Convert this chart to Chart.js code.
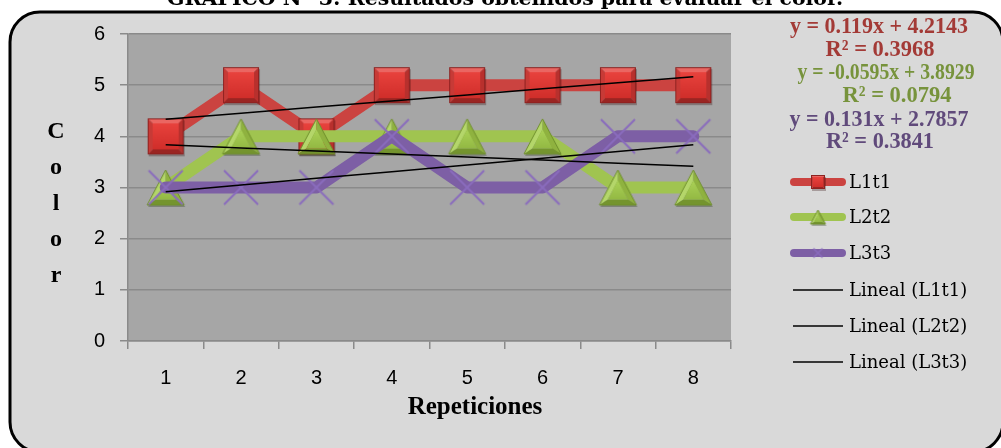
<!DOCTYPE html>
<html>
<head>
<meta charset="utf-8">
<title>Color</title>
<script src="https://cdn.jsdelivr.net/npm/chart.js@4.4.0/dist/chart.umd.min.js"></script>
<style>
  html, body { margin: 0; padding: 0; background: #ffffff; }
  #Contenedor { width: 1001px; height: 448px; }
</style>
</head>
<body>
<div id="Contenedor"><canvas id="Grafico" width="1001" height="448"></canvas></div>
<script>
/* Datos: repeticiones y puntaje de color de cada tratamiento */
const repeticiones = ["1", "2", "3", "4", "5", "6", "7", "8"];
const L1t1 = [4, 5, 4, 5, 5, 5, 5, 5];
const L2t2 = [3, 4, 4, 4, 4, 4, 3, 3];
const L3t3 = [3, 3, 3, 4, 3, 3, 4, 4];
const ticksColor = [0, 1, 2, 3, 4, 5, 6];

const titulo = "GRÁFICO N° 3: Resultados obtenidos para evaluar el color.";
const tituloX = "Repeticiones";
const tituloY = ["C", "o", "l", "o", "r"];

/* colores */
const rojo = "#cb4340";
const verde = "#a0c450";
const morado = "#7d5fa5";
const rojoTexto = "#a33a36";
const verdeTexto = "#77933c";
const moradoTexto = "#604a7b";
const rejilla = "#8a8a8a";

/**
 * Regresion lineal de una serie (x = 1..n)
 * @param {Array} valores
 */
function lineal(valores) {
  const n = valores.length;
  const xs = valores.map((_, i) => i + 1);
  const mx = xs.reduce((a, b) => a + b, 0) / n;
  const my = valores.reduce((a, b) => a + b, 0) / n;
  let sxy = 0, sxx = 0, syy = 0;
  xs.forEach((x, i) => {
    sxy += (x - mx) * (valores[i] - my);
    sxx += (x - mx) * (x - mx);
    syy += (valores[i] - my) * (valores[i] - my);
  });
  const m = sxy / sxx;
  const b = my - m * mx;
  return { m: m, b: b, r2: (sxy * sxy) / (sxx * syy), puntos: xs.map(x => m * x + b) };
}

function num(v) {
  return String(parseFloat(v.toFixed(4)));
}

const tendencia1 = lineal(L1t1);
const tendencia2 = lineal(L2t2);
const tendencia3 = lineal(L3t3);

/* poligono relleno */
function cara(ctx, pts, color) {
  ctx.beginPath();
  ctx.moveTo(pts[0][0], pts[0][1]);
  for (let i = 1; i < pts.length; i++) ctx.lineTo(pts[i][0], pts[i][1]);
  ctx.closePath();
  ctx.fillStyle = color;
  ctx.fill();
}

/* marcador cuadrado con bisel */
function marcaCuadro(lado) {
  const s = 3;
  const c = document.createElement("canvas");
  c.width = lado + s * 2;
  c.height = lado + s * 2;
  const x = c.getContext("2d");
  x.fillStyle = "rgba(40,0,0,0.28)";
  x.fillRect(s + 1, s + 2, lado, lado);
  const o = s, b = Math.max(2, Math.round(lado * 0.14)), f = o + lado;
  cara(x, [[o, o], [f, o], [f - b, o + b], [o + b, o + b]], "#ea6662");
  cara(x, [[f, o], [f, f], [f - b, f - b], [f - b, o + b]], "#b8302d");
  cara(x, [[o, f], [f, f], [f - b, f - b], [o + b, f - b]], "#9a2522");
  cara(x, [[o, o], [o, f], [o + b, f - b], [o + b, o + b]], "#c73a36");
  const g = x.createLinearGradient(0, o + b, 0, f - b);
  g.addColorStop(0, "#e8423d");
  g.addColorStop(1, "#d02e2a");
  x.fillStyle = g;
  x.fillRect(o + b, o + b, lado - 2 * b, lado - 2 * b);
  x.strokeStyle = "#8e2220";
  x.lineWidth = 1;
  x.strokeRect(o + 0.5, o + 0.5, lado - 1, lado - 1);
  return c;
}

/* marcador triangulo con bisel */
function marcaTriangulo(ancho) {
  const alto = Math.round(ancho * 0.95), s = 3;
  const c = document.createElement("canvas");
  c.width = ancho + s * 2;
  c.height = alto + s * 2;
  const x = c.getContext("2d");
  const A = [s + ancho / 2, s], B = [s, s + alto], C = [s + ancho, s + alto];
  cara(x, [[A[0] + 1, A[1] + 2], [B[0] + 1, B[1] + 2], [C[0] + 1, C[1] + 2]], "rgba(20,40,0,0.28)");
  const cx = (A[0] + B[0] + C[0]) / 3, cy = (A[1] + B[1] + C[1]) / 3, k = 0.55;
  const a = [cx + (A[0] - cx) * k, cy + (A[1] - cy) * k];
  const b = [cx + (B[0] - cx) * k, cy + (B[1] - cy) * k];
  const d = [cx + (C[0] - cx) * k, cy + (C[1] - cy) * k];
  cara(x, [A, B, b, a], "#b4d66a");
  cara(x, [A, C, d, a], "#8fb23f");
  cara(x, [B, C, d, b], "#74942e");
  const g = x.createLinearGradient(0, a[1], 0, b[1]);
  g.addColorStop(0, "#aad157");
  g.addColorStop(1, "#93b943");
  cara(x, [a, b, d], g);
  x.beginPath();
  x.moveTo(A[0], A[1]); x.lineTo(B[0], B[1]); x.lineTo(C[0], C[1]); x.closePath();
  x.strokeStyle = "#6f8f2c";
  x.lineWidth = 1;
  x.stroke();
  return c;
}

/* marcador en forma de X */
function marcaCruz(lado, grosor) {
  const c = document.createElement("canvas");
  c.width = lado + 4;
  c.height = lado + 4;
  const x = c.getContext("2d");
  x.strokeStyle = "#8a6cbd";
  x.lineWidth = grosor;
  x.beginPath();
  x.moveTo(2, 2); x.lineTo(lado + 2, lado + 2);
  x.moveTo(lado + 2, 2); x.lineTo(2, lado + 2);
  x.stroke();
  return c;
}

const puntoRojo = marcaCuadro(36);
const puntoVerde = marcaTriangulo(37);
const puntoMorado = marcaCruz(34, 2);

/* fondo, recuadro y area de trazado */
const fondoPlugin = {
  id: "fondo",
  beforeDraw(chart) {
    const ctx = chart.ctx;
    const a = chart.chartArea;
    ctx.save();
    ctx.fillStyle = "#ffffff";
    ctx.fillRect(0, 0, chart.width, chart.height);
    ctx.beginPath();
    ctx.roundRect(10, 12, 993, 440, 30);
    ctx.fillStyle = "#d9d9d9";
    ctx.fill();
    ctx.lineWidth = 3;
    ctx.strokeStyle = "#000000";
    ctx.stroke();
    ctx.fillStyle = "#a6a6a6";
    ctx.fillRect(a.left, a.top, a.right - a.left, a.bottom - a.top);
    /* titulo del grafico */
    ctx.fillStyle = "#000000";
    ctx.font = "bold 21px 'DejaVu Serif', serif";
    ctx.textAlign = "center";
    ctx.textBaseline = "alphabetic";
    ctx.fillText(titulo, 505, 5, 676);
    ctx.restore();
  }
};

/* ecuaciones, leyenda y titulos de ejes */
const textosPlugin = {
  id: "textos",
  afterDraw(chart) {
    const ctx = chart.ctx;
    ctx.save();
    ctx.textBaseline = "middle";
    ctx.textAlign = "center";

    /* ecuaciones de tendencia */
    ctx.font = "bold 23px 'Liberation Serif', serif";
    const ecuaciones = [
      [tendencia1, rojoTexto, 879, 27, 178, 880, 50, 109],
      [tendencia2, verdeTexto, 886, 73, 177, 897, 96, 109],
      [tendencia3, moradoTexto, 879, 120, 179, 880, 142, 108]
    ];
    ecuaciones.forEach(e => {
      const t = e[0];
      ctx.fillStyle = e[1];
      ctx.fillText("y = " + num(t.m) + "x + " + num(t.b), e[2], e[3], e[4]);
      ctx.fillText("R² = " + num(t.r2), e[5], e[6], e[7]);
    });

    /* leyenda */
    ctx.textAlign = "left";
    ctx.font = "18px 'DejaVu Serif', serif";
    const series = [
      ["L1t1", rojo, marcaCuadro(14), 182],
      ["L2t2", verde, marcaTriangulo(15), 217],
      ["L3t3", morado, marcaCruz(9, 1.5), 253]
    ];
    series.forEach(s => {
      ctx.strokeStyle = s[1];
      ctx.lineWidth = 8;
      ctx.lineCap = "round";
      ctx.beginPath();
      ctx.moveTo(794, s[3]);
      ctx.lineTo(842, s[3]);
      ctx.stroke();
      ctx.drawImage(s[2], 818 - s[2].width / 2, s[3] - s[2].height / 2);
      ctx.fillStyle = "#000000";
      ctx.fillText(s[0], 849, s[3] + 1);
    });
    ["Lineal (L1t1)", "Lineal (L2t2)", "Lineal (L3t3)"].forEach((txt, i) => {
      const y = 290 + i * 36;
      ctx.strokeStyle = "#000000";
      ctx.lineWidth = 1.5;
      ctx.lineCap = "butt";
      ctx.beginPath();
      ctx.moveTo(793, y);
      ctx.lineTo(843, y);
      ctx.stroke();
      ctx.fillStyle = "#000000";
      ctx.fillText(txt, 849, y + 1);
    });

    /* titulos de ejes */
    ctx.textAlign = "center";
    ctx.fillStyle = "#000000";
    ctx.font = "bold 25px 'Liberation Serif', serif";
    ctx.fillText(tituloX, 475, 408, 140);
    ctx.font = "bold 24px 'Liberation Serif', serif";
    tituloY.forEach((letra, i) => {
      ctx.fillText(letra, 56, 132 + i * 36);
    });
    ctx.restore();
  }
};

const fuenteTicks = { family: "'Liberation Sans', sans-serif", size: 20 };

function serie(nombre, datos, color, marca, orden) {
  return {
    label: nombre,
    data: datos,
    borderColor: color,
    borderWidth: 12,
    borderJoinStyle: "round",
    borderCapStyle: "round",
    pointStyle: marca,
    pointRadius: 18,
    tension: 0,
    order: orden
  };
}

function recta(nombre, datos) {
  return {
    label: nombre,
    data: datos,
    borderColor: "#000000",
    borderWidth: 1.5,
    pointRadius: 0,
    tension: 0,
    order: 0
  };
}

const myChart = new Chart(document.getElementById("Grafico"), {
  type: "line",
  data: {
    labels: repeticiones,
    datasets: [
      serie("L1t1", L1t1, rojo, puntoRojo, 3),
      serie("L2t2", L2t2, verde, puntoVerde, 2),
      serie("L3t3", L3t3, morado, puntoMorado, 1),
      recta("Lineal (L1t1)", tendencia1.puntos),
      recta("Lineal (L2t2)", tendencia2.puntos),
      recta("Lineal (L3t3)", tendencia3.puntos)
    ]
  },
  options: {
    responsive: false,
    animation: false,
    events: [],
    layout: { padding: { top: 34, right: 270, left: 0, bottom: 0 } },
    plugins: {
      legend: { display: false },
      tooltip: { enabled: false },
      title: { display: false }
    },
    scales: {
      x: {
        offset: true,
        grid: { drawOnChartArea: false, offset: true, color: rejilla, lineWidth: 1.5, tickLength: 8 },
        border: { color: rejilla, width: 1.5 },
        ticks: { color: "#000000", font: fuenteTicks, padding: 17, maxRotation: 0 },
        afterFit(scale) { scale.height = 107; }
      },
      y: {
        min: 0,
        max: 6,
        grid: { color: rejilla, lineWidth: 1.5, tickLength: 8 },
        border: { color: rejilla, width: 1.5 },
        ticks: { color: "#000000", font: fuenteTicks, padding: 15 },
        afterBuildTicks(scale) { scale.ticks = ticksColor.map(v => ({ value: v })); },
        afterFit(scale) { scale.width = 128; }
      }
    }
  },
  plugins: [fondoPlugin, textosPlugin]
});
</script>
</body>
</html>
